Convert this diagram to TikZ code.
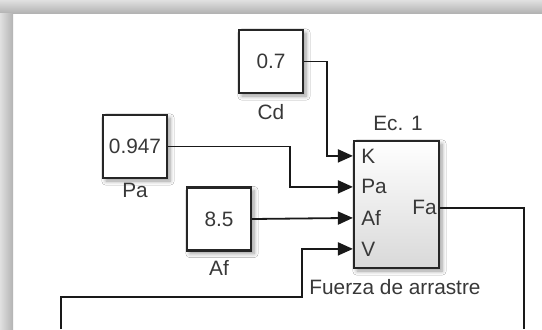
\documentclass[tikz,border=0pt]{standalone}
\usepackage{fontspec}
\setmainfont{Liberation Sans}
\usetikzlibrary{arrows.meta,calc,shadows.blur}

\tikzset{
  const/.style={draw=black!85, line width=1.1pt, fill=white, minimum width=32pt, minimum height=31.5pt,
    inner sep=0pt, blur shadow={shadow xshift=1.5pt, shadow yshift=-1.5pt, shadow blur steps=6, shadow opacity=40}},
  subsys/.style={draw=black!85, line width=1.1pt, top color=white, bottom color=black!15, minimum width=42.5pt,
    minimum height=63.5pt, inner sep=0pt, blur shadow={shadow xshift=1.5pt, shadow yshift=-1.5pt, shadow blur steps=6, shadow opacity=40}},
  lbl/.style={inner sep=0pt, text=black!78, font=\fontsize{10.4}{12}\selectfont},
  wire/.style={draw=black!90, line width=0.9pt, -{Triangle[length=7.5pt,width=6.5pt]}},
  line/.style={draw=black!90, line width=0.9pt}
}

\begin{document}
\begin{tikzpicture}[x=0.5pt,y=-0.5pt]
    \useasboundingbox (0,0) rectangle (542,329);
    \fill[white] (0,0) rectangle (542,329);

    % window frame
    \shade[top color=black!12, bottom color=black!30] (0,0) rectangle (542,13);
    \shade[left color=black!12, right color=black!30] (0,13) rectangle (13,329);

    % constant blocks
    \node[const, lbl] (cd) at (271,61.5) {0.7};
    \node[lbl] (cdname) at (271,112) {Cd};
    \node[const, lbl] (pa) at (135,146.5) {0.947};
    \node[lbl] (paname) at (135,190) {Pa};
    \node[const, lbl] (af) at (219,219) {8.5};
    \node[lbl] (afname) at (219,268) {Af};

    % drag force subsystem
    \node[subsys] (sub) at (396.5,204.5) {};
    \node[lbl] (subtitle) at (398,123) {Ec. 1};
    \node[lbl] (subname) at (395,287) {Fuerza de arrastre};

    % ports
    \coordinate (pK) at ($(sub.north west)+(0,16)$);
    \coordinate (pPa) at ($(sub.north west)+(0,47)$);
    \coordinate (pAf) at ($(sub.north west)+(0,78)$);
    \coordinate (pV) at ($(sub.north west)+(0,109)$);
    \coordinate (pFa) at ($(sub.north east)+(0,68)$);
    \node[lbl, anchor=west] (lK) at ($(pK)+(8,0)$) {K};
    \node[lbl, anchor=west] (lPa) at ($(pPa)+(8,0)$) {Pa};
    \node[lbl, anchor=west] (lAf) at ($(pAf)+(8,0)$) {Af};
    \node[lbl, anchor=west] (lV) at ($(pV)+(8,0)$) {V};
    \node[lbl, anchor=east] (lFa) at ($(pFa)+(-3,0)$) {Fa};

    % free ends at the bottom edge
    \coordinate (vin) at (61,329);
    \coordinate (fout) at (524,329);

    % signals
    \draw[wire] (cd.east) -- ++(23,0) |- (pK);
    \draw[wire] (pa.east) -- ++(122,0) |- (pPa);
    \draw[wire] (af.east) -- (pAf);
    \draw[wire] (vin) -- ++(0,-32) -- ++(241,0) |- (pV);
    \draw[line] (pFa) -| (fout);
\end{tikzpicture}
\end{document}
